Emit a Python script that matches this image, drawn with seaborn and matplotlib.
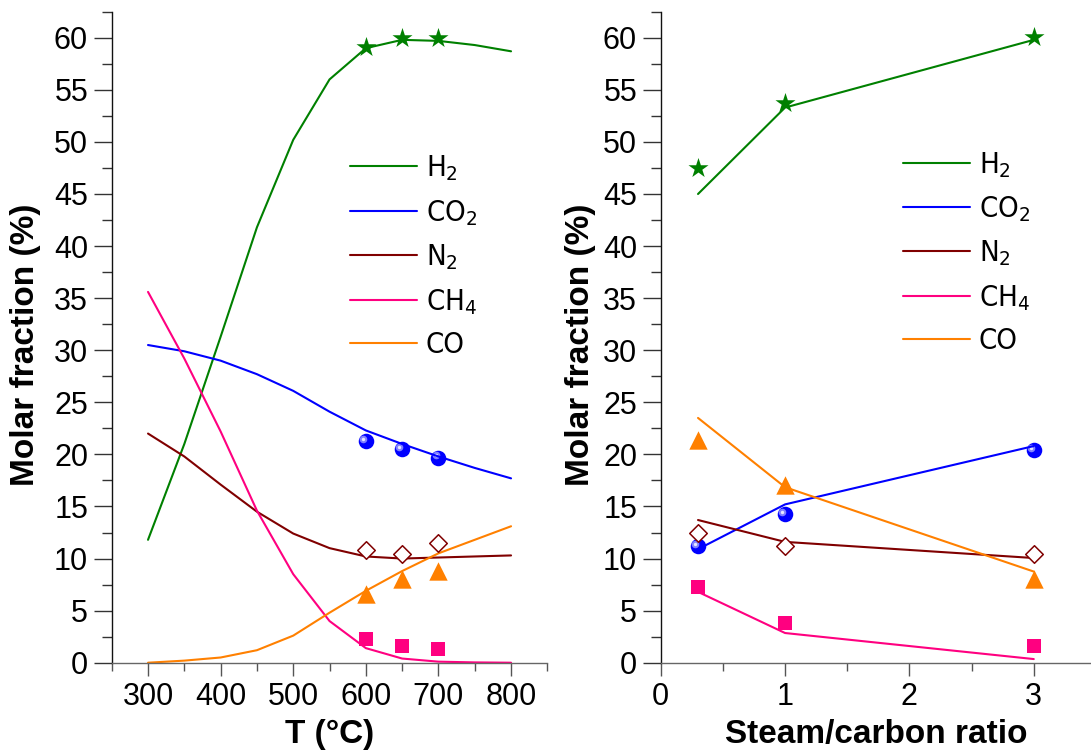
import matplotlib
matplotlib.use("Agg")
import matplotlib.pyplot as plt
import seaborn as sns
from matplotlib.ticker import MultipleLocator
from matplotlib.transforms import ScaledTranslation
from matplotlib.font_manager import FontProperties

# equilibrium curves vs temperature
temp = [300, 350, 400, 450, 500, 550, 600, 650, 700, 750, 800]
h2_temp = [11.8, 21.0, 31.3, 41.8, 50.2, 56.0, 59.0, 59.8, 59.7, 59.3, 58.7]
co2_temp = [30.5, 29.9, 29.0, 27.7, 26.1, 24.1, 22.3, 21.0, 19.8, 18.7, 17.7]
n2_temp = [22.0, 19.8, 17.1, 14.5, 12.4, 11.0, 10.2, 10.0, 10.1, 10.2, 10.3]
ch4_temp = [35.6, 29.2, 22.2, 14.6, 8.5, 4.0, 1.4, 0.4, 0.1, 0.03, 0.0]
co_temp = [0.0, 0.2, 0.5, 1.2, 2.6, 4.8, 6.9, 8.8, 10.5, 11.8, 13.1]

# experimental points vs temperature
temp_exp = [600, 650, 700]
h2_temp_exp = [59.1, 60.0, 60.0]
co2_temp_exp = [21.3, 20.5, 19.7]
n2_temp_exp = [10.8, 10.4, 11.5]
ch4_temp_exp = [2.25, 1.6, 1.3]
co_temp_exp = [6.6, 8.0, 8.8]

# steam/carbon ratio panel
sc = [0.3, 1, 3]
h2_sc = [45.0, 53.3, 59.8]
co2_sc = [10.9, 15.2, 20.8]
n2_sc = [13.7, 11.6, 10.05]
ch4_sc = [6.8, 2.85, 0.35]
co_sc = [23.5, 16.85, 8.75]

h2_sc_exp = [47.5, 53.7, 60.1]
co2_sc_exp = [11.2, 14.3, 20.4]
n2_sc_exp = [12.5, 11.2, 10.4]
ch4_sc_exp = [7.25, 3.85, 1.6]
co_sc_exp = [21.4, 17.05, 8.0]

gases = [r'$\mathregular{H_2}$', r'$\mathregular{CO_2}$', r'$\mathregular{N_2}$',
         r'$\mathregular{CH_4}$', 'CO']
colors = ['#008000', '#0000ff', '#800000', '#ff0080', '#ff8000']

sns.set_style('ticks')
plt.rcParams['font.family'] = ['Liberation Sans', 'DejaVu Sans']
plt.rcParams['axes.linewidth'] = 1.0
plt.rcParams['text.color'] = 'black'
plt.rcParams['axes.labelcolor'] = 'black'

fig = plt.figure(figsize=(10.91, 7.56), dpi=100)
ax1 = fig.add_axes([0.1024, 0.1234, 0.3993, 0.8611])
ax2 = fig.add_axes([0.6056, 0.1234, 0.3944, 0.8611])


def draw_markers(ax, x, h2, co2, n2, ch4, co):
    sns.scatterplot(x=x, y=h2, marker='*', s=230, color=colors[0], linewidth=0, ax=ax, legend=False)
    sns.scatterplot(x=x, y=co2, marker='o', s=125, color=colors[1], linewidth=0, ax=ax, legend=False)
    # little shine on the balls
    shine = ax.transData + ScaledTranslation(-2 / 72, 1.5 / 72, fig.dpi_scale_trans)
    sns.scatterplot(x=x, y=co2, marker='o', s=30, color='#8080ff', linewidth=0, ax=ax,
                    legend=False, transform=shine)
    sns.scatterplot(x=x, y=co2, marker='o', s=6, color='#e8e8ff', linewidth=0, ax=ax,
                    legend=False, transform=shine)
    sns.scatterplot(x=x, y=n2, marker='D', s=80, facecolor='white', edgecolor=colors[2],
                    linewidth=1.1, ax=ax, legend=False, zorder=3)
    sns.scatterplot(x=x, y=ch4, marker='s', s=90, color=colors[3], linewidth=0, ax=ax, legend=False)
    sns.scatterplot(x=x, y=co, marker='^', s=175, color=colors[4], linewidth=0, ax=ax, legend=False)


def draw_lines(ax, x, series):
    for vals, name, col in zip(series, gases, colors):
        sns.lineplot(x=x, y=vals, color=col, linewidth=1.5, label=name, ax=ax, sort=False)


draw_lines(ax1, temp, [h2_temp, co2_temp, n2_temp, ch4_temp, co_temp])
draw_markers(ax1, temp_exp, h2_temp_exp, co2_temp_exp, n2_temp_exp, ch4_temp_exp, co_temp_exp)
draw_lines(ax2, sc, [h2_sc, co2_sc, n2_sc, ch4_sc, co_sc])
draw_markers(ax2, sc, h2_sc_exp, co2_sc_exp, n2_sc_exp, ch4_sc_exp, co_sc_exp)

ax1.set_xlim(250, 850)
ax1.xaxis.set_major_locator(MultipleLocator(100))
ax1.xaxis.set_minor_locator(MultipleLocator(50))
ax2.set_xlim(0, 3.46)
ax2.xaxis.set_major_locator(MultipleLocator(1))
ax2.xaxis.set_minor_locator(MultipleLocator(0.5))

leg_font = FontProperties(family='DejaVu Sans', stretch='condensed', size=21)
label_font = dict(fontsize=24, fontweight='bold')
for ax, xlab, ylab_x, leg_pos in [(ax1, 'T (\u00b0C)', -0.197, (0.547, 0.782)),
                                  (ax2, 'Steam/carbon ratio', -0.1875, (0.563, 0.788))]:
    ax.set_ylim(0, 62.5)
    ax.yaxis.set_major_locator(MultipleLocator(5))
    ax.yaxis.set_minor_locator(MultipleLocator(2.5))
    ax.tick_params(axis='y', which='major', length=13, width=1.0, color='#333333',
                   labelsize=22, labelcolor='black', pad=4)
    ax.tick_params(axis='y', which='minor', length=7.5, width=1.0, color='#333333')
    ax.tick_params(axis='x', which='major', length=9, width=1.0, color='#555555',
                   labelsize=22, labelcolor='black', pad=5)
    ax.tick_params(axis='x', which='minor', length=6, width=1.0, color='#555555')
    ax.spines['top'].set_visible(False)
    ax.spines['right'].set_visible(False)
    ax.spines['left'].set_color('#111111')
    ax.spines['bottom'].set_color('#666666')
    ax.set_xlabel(xlab, **label_font)
    ax.set_ylabel('Molar fraction (%)', **label_font)
    ax.xaxis.set_label_coords(0.5, -0.111)
    ax.xaxis.label.set_va('center')
    ax.yaxis.set_label_coords(ylab_x, 0.488)
    ax.yaxis.label.set_va('center')
    ax.legend(loc='upper left', bbox_to_anchor=leg_pos, frameon=False, prop=leg_font,
              handlelength=2.3, handletextpad=0.3, labelspacing=0.5,
              borderpad=0, borderaxespad=0)

fig.savefig('out.png', dpi=100)
